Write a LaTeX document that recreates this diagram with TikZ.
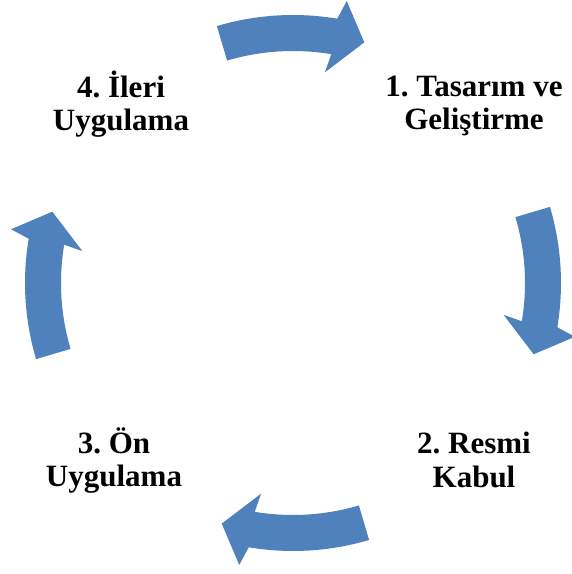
\documentclass[tikz,border=0pt]{standalone}
\usepackage{fontspec}
\setmainfont{Liberation Serif}
\usetikzlibrary{positioning}
\definecolor{cycleblue}{HTML}{4F81BD}
\frenchspacing

\begin{document}
\begin{tikzpicture}[x=1pt,y=1pt,
  pil/.style={fill=cycleblue,draw=none},
  etiket/.style={align=center,inner sep=0pt,font=\bfseries\fontsize{31}{33.5}\selectfont}]
 \useasboundingbox (0,0) rectangle (572,574);
 \node[etiket] (tasarim) at (474,467.8) {1. Tasarım ve\\Geliştirme};
 \node[etiket] (resmi) at (474,114) {2. Resmi\\Kabul};
 \node[etiket] (on) at (114,113.4) {3. Ön\\Uygulama};
 \node[etiket] (ileri) at (121,469.9) {4. İleri\\Uygulama};
 \begin{scope}[shift={(293,291)}]
 \fill[pil](106.5:268) arc[start angle=106.5,end angle=80.5,radius=268pt]--(79.2:287)--(73.5:251)--(81.4:213)--(80.5:232) arc[start angle=80.5,end angle=106.5,radius=232pt]--cycle;
 \fill[pil](16.5:268) arc[start angle=16.5,end angle=-9.5,radius=268pt]--(-10.8:287)--(-16.5:251)--(-8.6:213)--(-9.5:232) arc[start angle=-9.5,end angle=16.5,radius=232pt]--cycle;
 \fill[pil](-73.5:268) arc[start angle=-73.5,end angle=-99.5,radius=268pt]--(-100.8:287)--(-106.5:251)--(-98.6:213)--(-99.5:232) arc[start angle=-99.5,end angle=-73.5,radius=232pt]--cycle;
 \fill[pil](196.5:268) arc[start angle=196.5,end angle=170.5,radius=268pt]--(169.2:287)--(163.5:251)--(171.4:213)--(170.5:232) arc[start angle=170.5,end angle=196.5,radius=232pt]--cycle;
 \end{scope}
\end{tikzpicture}
\end{document}
